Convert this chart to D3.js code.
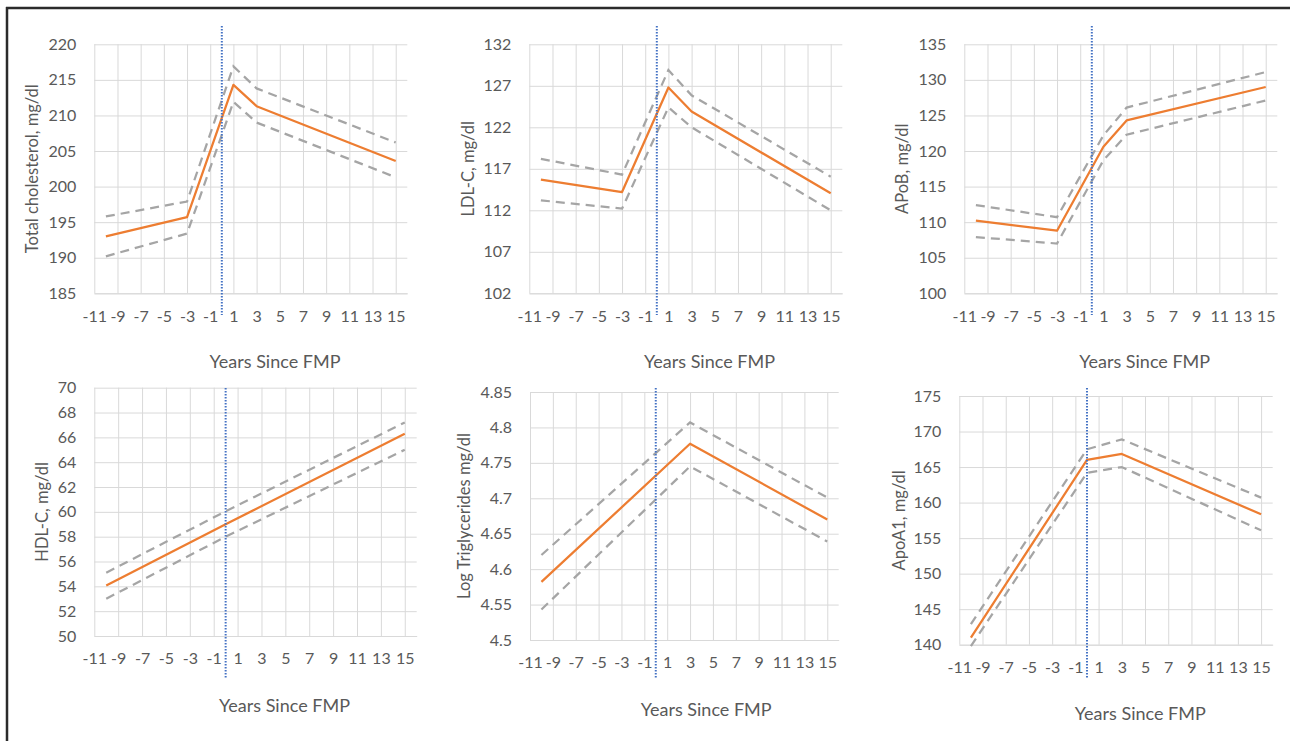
<!DOCTYPE html>
<html>
<head>
<meta charset="utf-8">
<script src="https://cdn.jsdelivr.net/npm/d3@7"></script>
<style>
  body { margin: 0; background: #fff; }
  text { font-family: Lato, "Open Sans", sans-serif; fill: #595959; }
</style>
</head>
<body>
<div id="chart"></div>
<script>
// x axis shared by all six panels
const xTicks = [-11, -9, -7, -5, -3, -1, 1, 3, 5, 7, 9, 11, 13, 15];
const xDomain = [-11, 16];
const fmpYear = 0;

// Total cholesterol
const tcYears = [-10, -3, 1, 3, 15];
const tcMean = [193.0, 195.7, 214.3, 211.3, 203.6];
const tcUpper = [195.8, 197.9, 216.9, 213.8, 206.2];
const tcLower = [190.2, 193.4, 211.9, 209.0, 201.3];
const tcTicks = [185, 190, 195, 200, 205, 210, 215, 220];

// LDL-C
const ldlYears = [-10, -3, 1, 3, 15];
const ldlMean = [115.7, 114.2, 126.8, 123.9, 114.05];
const ldlUpper = [118.2, 116.3, 128.9, 125.85, 116.05];
const ldlLower = [113.2, 112.2, 124.4, 122.0, 112.0];
const ldlTicks = [102, 107, 112, 117, 122, 127, 132];

// ApoB
const apobYears = [-10, -3, 1, 3, 15];
const apobMean = [110.2, 108.8, 120.6, 124.3, 129.0];
const apobUpper = [112.4, 110.7, 122.2, 126.1, 131.1];
const apobLower = [107.9, 107.0, 118.7, 122.3, 127.1];
const apobTicks = [100, 105, 110, 115, 120, 125, 130, 135];

// HDL-C
const hdlYears = [-10, 0, 15];
const hdlMean = [54.06, 59.0, 66.3];
const hdlUpper = [55.1, 60.05, 67.2];
const hdlLower = [53.0, 58.0, 65.0];
const hdlTicks = [50, 52, 54, 56, 58, 60, 62, 64, 66, 68, 70];

// Log triglycerides
const tgYears = [-10, 3, 15];
const tgMean = [4.582, 4.777, 4.670];
const tgUpper = [4.620, 4.807, 4.701];
const tgLower = [4.543, 4.745, 4.639];
const tgTicks = [4.5, 4.55, 4.6, 4.65, 4.7, 4.75, 4.8, 4.85];

// ApoA1
const apoaYears = [-10, 0, 3, 15];
const apoaMean = [141.0, 166.0, 166.85, 158.35];
const apoaUpper = [142.9, 167.5, 168.9, 160.7];
const apoaLower = [139.8, 164.2, 165.0, 156.1];
const apoaTicks = [140, 145, 150, 155, 160, 165, 170, 175];

// panel boxes and label spots (layout only)
const panels = [
    { title: "Total cholesterol, mg/dl", years: tcYears, mean: tcMean, upper: tcUpper, lower: tcLower, ticks: tcTicks,
      box: [94.3, 44.3, 407.3, 293.3], yTitleX: 32.7, xTitle: [275, 368], fmp: [26, 315] },
    { title: "LDL-C, mg/dl", years: ldlYears, mean: ldlMean, upper: ldlUpper, lower: ldlLower, ticks: ldlTicks,
      box: [529.3, 44.3, 842.3, 293.3], yTitleX: 468.3, xTitle: [709.5, 368], fmp: [26, 315] },
    { title: "APoB, mg/dl", years: apobYears, mean: apobMean, upper: apobUpper, lower: apobLower, ticks: apobTicks,
      box: [964.3, 44.3, 1277.3, 293.3], yTitleX: 902.7, xTitle: [1144.7, 368], fmp: [26, 315] },
    { title: "HDL-C, mg/dl", years: hdlYears, mean: hdlMean, upper: hdlUpper, lower: hdlLower, ticks: hdlTicks,
      box: [94.3, 387.7, 416.7, 636], yTitleX: 42.7, xTitle: [284.5, 711.5], fmp: [388, 678] },
    { title: "Log Triglycerides mg/dl", years: tgYears, mean: tgMean, upper: tgUpper, lower: tgLower, ticks: tgTicks,
      box: [530, 392, 838.7, 640], yTitleX: 464.7, xTitle: [706.2, 716], fmp: [388, 678] },
    { title: "ApoA1, mg/dl", years: apoaYears, mean: apoaMean, upper: apoaUpper, lower: apoaLower, ticks: apoaTicks,
      box: [959.3, 396, 1272.7, 644.7], yTitleX: 899.3, xTitle: [1140.3, 720], fmp: [388, 678] }
];

const svg = d3.select("#chart")
    .append("svg")
    .attr("width", 1290)
    .attr("height", 741);

// outer frame (top and left edges only)
svg.append("line")
    .attr("x1", 6).attr("x2", 1290).attr("y1", 8).attr("y2", 8)
    .attr("stroke", "#2b2b2b").attr("stroke-width", 2.5);
svg.append("line")
    .attr("x1", 7).attr("x2", 7).attr("y1", 7).attr("y2", 741)
    .attr("stroke", "#2b2b2b").attr("stroke-width", 2.5);

// plain hyphen minus like the original, not the unicode minus
const plain = d => String(d);

panels.forEach(p => {
    const [left, top, right, bottom] = p.box;

    const x = d3.scaleLinear().domain(xDomain).range([left, right]);
    const y = d3.scaleLinear()
        .domain([p.ticks[0], p.ticks[p.ticks.length - 1]])
        .range([bottom, top]);

    const g = svg.append("g");

    // horizontal gridlines
    g.append("g")
        .attr("transform", "translate(" + left + ",0)")
        .call(d3.axisLeft(y).tickValues(p.ticks).tickSize(-(right - left)).tickFormat(""))
        .call(a => a.select(".domain").remove())
        .call(a => a.selectAll("line").attr("stroke", "#d9d9d9"));

    // vertical gridlines
    g.append("g")
        .attr("transform", "translate(0," + bottom + ")")
        .call(d3.axisBottom(x).tickValues(xTicks).tickSize(-(bottom - top)).tickFormat(""))
        .call(a => a.select(".domain").remove())
        .call(a => a.selectAll("line").attr("stroke", "#d9d9d9"));

    // y tick labels
    g.append("g")
        .attr("transform", "translate(" + left + ",0)")
        .call(d3.axisLeft(y).tickValues(p.ticks).tickSize(0).tickPadding(18).tickFormat(plain))
        .call(a => a.select(".domain").remove())
        .call(a => a.selectAll("text")
            .style("font-family", "Lato, sans-serif")
            .style("font-size", "16px")
            .attr("fill", "#595959"));

    // x tick labels
    g.append("g")
        .attr("transform", "translate(0," + bottom + ")")
        .call(d3.axisBottom(x).tickValues(xTicks).tickSize(0).tickPadding(17).tickFormat(plain))
        .call(a => a.select(".domain").attr("stroke", "#d9d9d9"))
        .call(a => a.selectAll("text")
            .style("font-family", "Lato, sans-serif")
            .style("font-size", "16px")
            .attr("fill", "#595959"));

    // axis titles
    g.append("text")
        .attr("transform", "translate(" + p.yTitleX + "," + ((top + bottom) / 2) + ")rotate(-90)")
        .attr("text-anchor", "middle")
        .attr("dy", "0.35em")
        .style("font-size", "16.5px")
        .text(p.title);

    g.append("text")
        .attr("x", p.xTitle[0])
        .attr("y", p.xTitle[1])
        .attr("text-anchor", "middle")
        .style("font-size", "18px")
        .text("Years Since FMP");

    const line = d3.line()
        .x(d => x(d[0]))
        .y(d => y(d[1]));

    // confidence bounds
    [p.upper, p.lower].forEach(vals => {
        g.append("path")
            .datum(p.years.map((yr, i) => [yr, vals[i]]))
            .attr("fill", "none")
            .attr("stroke", "#a5a5a5")
            .attr("stroke-width", 2.25)
            .attr("stroke-dasharray", "9,6")
            .attr("d", line);
    });

    // estimate
    g.append("path")
        .datum(p.years.map((yr, i) => [yr, p.mean[i]]))
        .attr("fill", "none")
        .attr("stroke", "#ed7d31")
        .attr("stroke-width", 2.25)
        .attr("stroke-linejoin", "round")
        .attr("d", line);

    // final menstrual period marker
    g.append("line")
        .attr("x1", x(fmpYear)).attr("x2", x(fmpYear))
        .attr("y1", p.fmp[0]).attr("y2", p.fmp[1])
        .attr("stroke", "#4472c4")
        .attr("stroke-width", 2)
        .attr("stroke-dasharray", "1.5,1.5");
});
</script>
</body>
</html>
